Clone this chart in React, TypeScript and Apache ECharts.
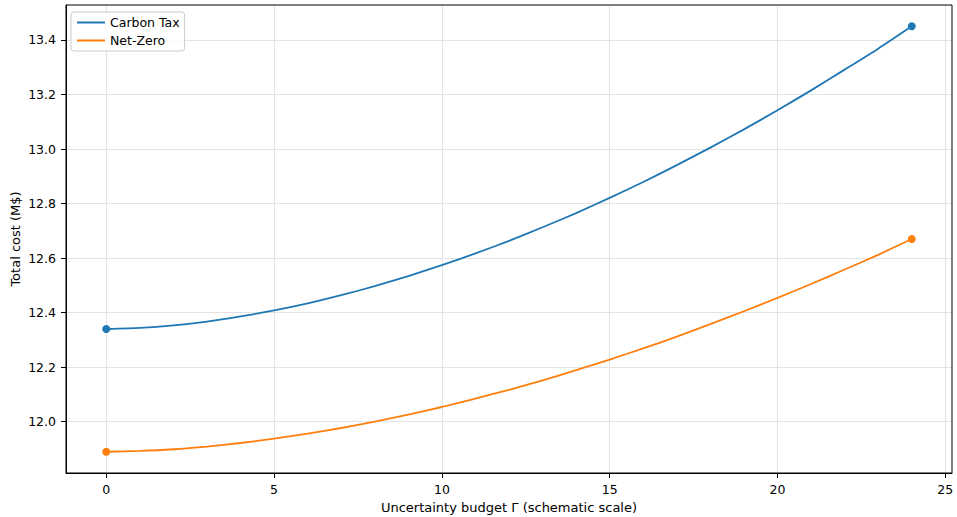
import React, { useEffect, useRef } from "react";
import * as echarts from "echarts";

// Uncertainty budget values (x) and total cost curves (M$)
const gammaValues = [
  0, 1, 2, 3, 4, 5, 6, 7, 8, 9, 10, 11, 12, 13, 14, 15, 16, 17, 18, 19, 20, 21, 22, 23, 24,
];
const carbonTaxCost = [
  12.34, 12.344, 12.353, 12.367, 12.386, 12.408, 12.434, 12.464, 12.497, 12.534, 12.574,
  12.617, 12.663, 12.713, 12.765, 12.821, 12.879, 12.941, 13.005, 13.072, 13.142, 13.215,
  13.291, 13.368, 13.45,
];
const netZeroCost = [
  11.89, 11.893, 11.899, 11.909, 11.922, 11.938, 11.956, 11.977, 12.0, 12.026, 12.054,
  12.085, 12.117, 12.152, 12.189, 12.228, 12.269, 12.312, 12.358, 12.405, 12.454, 12.505,
  12.558, 12.612, 12.67,
];
const seriesNames = ["Carbon Tax", "Net-Zero"];
const seriesColors = ["#1f77b4", "#ff7f0e"];

const FONT = "DejaVu Sans";
const TICK_FONT = 12.5;
const NAME_FONT = 13;

function isMultiple(v: number, step: number) {
  const r = v / step;
  return Math.abs(r - Math.round(r)) < 1e-6;
}

export default function App() {
  const ref = useRef<HTMLDivElement>(null);

  useEffect(() => {
    if (!ref.current) return;
    const chart = echarts.init(ref.current, undefined, { renderer: "svg" });

    const allY = carbonTaxCost.concat(netZeroCost);
    const yLo = Math.min(...allY);
    const yHi = Math.max(...allY);
    const yPad = (yHi - yLo) * 0.05;
    const xLo = gammaValues[0];
    const xHi = gammaValues[gammaValues.length - 1];
    const xPad = (xHi - xLo) * 0.05;

    const makeSeries = (name: string, values: number[], color: string) => ({
      name,
      type: "line",
      data: gammaValues.map((g, i) => [g, values[i]]),
      smooth: 0.2,
      showSymbol: true,
      symbol: "circle",
      symbolSize: (_v: any, p: any) =>
        p.dataIndex === 0 || p.dataIndex === gammaValues.length - 1 ? 8 : 0,
      lineStyle: { color, width: 1.8 },
      itemStyle: { color },
      emphasis: { disabled: true },
      z: 3,
    });

    const tickStyle = {
      show: true,
      inside: false,
      length: 5,
      lineStyle: { color: "#000000", width: 1 },
    };
    const gridLine = {
      show: true,
      showMinLine: false,
      showMaxLine: false,
      lineStyle: { color: "#e3e3e3", width: 1 },
    };
    const axisLine = {
      show: true,
      onZero: false,
      lineStyle: { color: "#000000", width: 1 },
    };

    chart.setOption({
      animation: false,
      backgroundColor: "#ffffff",
      textStyle: { fontFamily: FONT },
      grid: {
        left: 66,
        right: 5,
        top: 5,
        bottom: 44,
        show: true,
        borderColor: "#000000",
        borderWidth: 1,
        backgroundColor: "transparent",
        containLabel: false,
        outerBoundsMode: "none",
        z: 10,
      },
      legend: {
        left: 71,
        top: 12,
        orient: "vertical",
        padding: [4, 5, 4, 6],
        itemGap: 5,
        itemWidth: 28,
        itemHeight: 2,
        itemTextGap: 8,
        icon: "rect",
        backgroundColor: "rgba(255,255,255,0.8)",
        borderColor: "#cccccc",
        borderWidth: 1,
        borderRadius: 3,
        textStyle: { fontFamily: FONT, fontSize: TICK_FONT, color: "#000000" },
        data: seriesNames,
      },
      xAxis: {
        type: "value",
        min: xLo - xPad,
        max: xHi + xPad,
        splitNumber: 5,
        name: "Uncertainty budget Γ (schematic scale)",
        nameLocation: "middle",
        nameGap: 27,
        nameTextStyle: { fontFamily: FONT, fontSize: NAME_FONT, color: "#000000" },
        axisLine,
        axisTick: tickStyle,
        axisLabel: {
          fontFamily: FONT,
          fontSize: TICK_FONT,
          color: "#000000",
          margin: 10,
          showMinLabel: false,
          showMaxLabel: false,
          formatter: (v: number) => (isMultiple(v, 5) ? String(Math.round(v)) : ""),
        },
        splitLine: gridLine,
      },
      yAxis: {
        type: "value",
        min: yLo - yPad,
        max: yHi + yPad,
        splitNumber: 8,
        name: "Total cost (M$)",
        nameLocation: "middle",
        nameGap: 44,
        nameMoveOverlap: false,
        nameTextStyle: { fontFamily: FONT, fontSize: NAME_FONT, color: "#000000" },
        axisLine,
        axisTick: tickStyle,
        axisLabel: {
          fontFamily: FONT,
          fontSize: TICK_FONT,
          color: "#000000",
          margin: 10,
          showMinLabel: false,
          showMaxLabel: false,
          formatter: (v: number) => (isMultiple(v, 0.2) ? v.toFixed(1) : ""),
        },
        splitLine: gridLine,
      },
      series: [
        makeSeries(seriesNames[0], carbonTaxCost, seriesColors[0]),
        makeSeries(seriesNames[1], netZeroCost, seriesColors[1]),
      ],
    });

    return () => chart.dispose();
  }, []);

  return (
    <div
      ref={ref}
      style={{ width: 957, height: 517, position: "absolute", left: 0, top: 0 }}
    />
  );
}
